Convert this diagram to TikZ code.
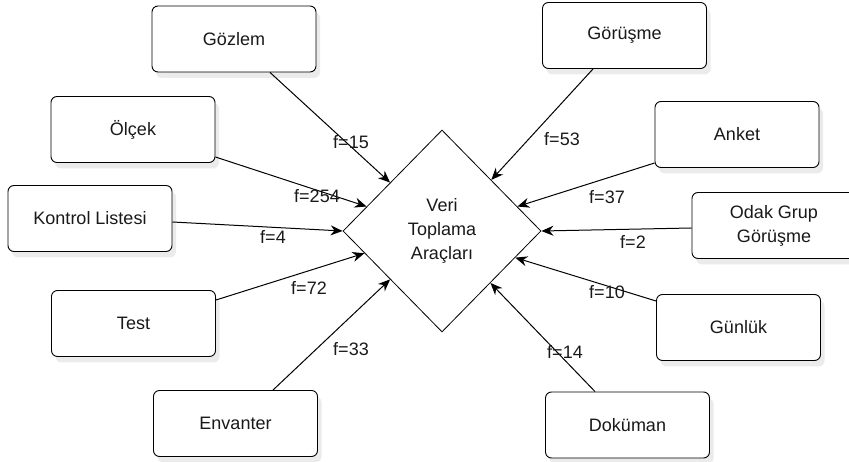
\documentclass[tikz,border=0pt]{standalone}
\usepackage{fontspec}
\setmainfont{Liberation Sans}
\usetikzlibrary{shapes.geometric,arrows.meta,shadows}
\begin{document}
\begin{tikzpicture}[x=1pt,y=-1pt,
  every node/.style={font=\fontsize{18}{24}\selectfont, text=black!90},
  box/.style={draw, rounded corners=6pt, minimum width=164pt, minimum height=66pt,
    align=center, fill=white, line width=0.9pt,
    drop shadow={opacity=0.16, shadow xshift=4pt, shadow yshift=-6pt}},
  hub/.style={draw, diamond, minimum width=198pt, minimum height=202pt, inner sep=0pt,
    align=center, line width=0.8pt, fill=white},
  conn/.style={line width=1pt, -{Stealth[length=12pt,width=10pt]}},
  lab/.style={inner sep=1pt}]
\useasboundingbox (0,0) rectangle (849,462);

% hub
\node[hub] (dia) at (442,231) {Veri\\Toplama\\Araçları};

% boxes
\node[box] (goz) at (234,39) {Gözlem};
\node[box] (olc) at (133,129.5) {Ölçek};
\node[box] (kon) at (90,218.5) {Kontrol Listesi};
\node[box] (tes) at (133.5,323.5) {Test};
\node[box] (env) at (235.5,423.5) {Envanter};
\node[box] (gor) at (624.5,35.5) {Görüşme};
\node[box] (ank) at (737,134.5) {Anket};
\node[box] (oda) at (774,225.5) {Odak Grup\\Görüşme};
\node[box] (gun) at (738.5,327.5) {Günlük};
\node[box] (dok) at (627.5,425) {Doküman};

% connectors
\draw[conn] ([xshift=36pt]goz.south) -- (dia.137.8);
\draw[conn] ([yshift=-27.5pt]olc.east) -- (dia.162.7);
\draw[conn] ([yshift=-3.5pt]kon.east) -- (dia.180);
\draw[conn] ([yshift=23.5pt]tes.east) -- (dia.196.9);
\draw[conn] ([xshift=37.5pt]env.north) -- (dia.223.9);
\draw[conn] ([xshift=-31.5pt]gor.south) -- (dia.46.7);
\draw[conn] ([yshift=-28.5pt]ank.west) -- (dia.18.9);
\draw[conn] ([yshift=-2.5pt]oda.west) -- (dia.0);
\draw[conn] ([yshift=26.5pt]gun.west) -- (dia.340.9);
\draw[conn] ([xshift=-32.5pt]dok.north) -- (dia.313.9);

% labels
\node[lab] (l1) at (351,142) {f=15};
\node[lab] (l2) at (317,196) {f=254};
\node[lab] (l3) at (273,237) {f=4};
\node[lab] (l4) at (309,288) {f=72};
\node[lab] (l5) at (351,349) {f=33};
\node[lab] (l6) at (562,139) {f=53};
\node[lab] (l7) at (607,197) {f=37};
\node[lab] (l8) at (633,242) {f=2};
\node[lab] (l9) at (607,292) {f=10};
\node[lab] (l10) at (565,352) {f=14};
\end{tikzpicture}
\end{document}
